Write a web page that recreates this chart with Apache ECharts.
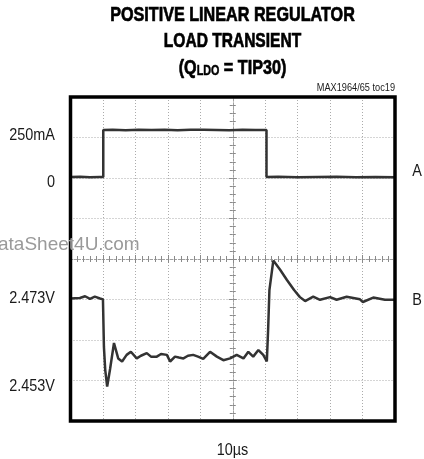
<!DOCTYPE html>
<html><head><meta charset="utf-8">
<script src="https://cdn.jsdelivr.net/npm/echarts@6/dist/echarts.min.js"></script>
<style>html,body{margin:0;padding:0;background:#fff}#c{width:424px;height:459px}</style>
</head><body><div id="c"></div>
<script>
// ---- text ----
const titleLines = ['POSITIVE LINEAR REGULATOR', 'LOAD TRANSIENT', '(Q{sub|LDO} = TIP30)'];
const noteText = 'MAX1964/65 toc19';
const timeDivLabel = '10µs';
const traceNames = ['A', 'B'];
const watermarkText = 'ataSheet4U.com';

// ---- tick labels ----
const tickValuesA = [250, 0];
const tickTextA = ['250mA', '0'];
const tickValuesB = [2.473, 2.453];
const tickTextB = ['2.473V', '2.453V'];

// ---- trace A: load current (mA) vs time (µs) ----
const timeA = [0, 3, 6, 9, 10.1, 10.1, 13, 17, 21, 25, 29, 33, 37, 41, 45, 49, 53, 57, 60.4, 60.4, 64, 70, 76, 82, 88, 94, 100];
const currentA = [0, 1, -1, 0, 0, 250, 251, 249, 251, 250, 252, 249, 251, 251, 250, 249, 251, 250, 250, 0, 1, -1, 0, 1, -1, 0, -1];

// ---- trace B: output voltage (V) vs time (µs) ----
const timeB = [0, 2.9, 4.5, 6.0, 7.5, 9.1, 10.0, 10.3, 10.7, 11.3, 12.2, 13.4, 14.7, 15.9, 17.3, 18.6, 20.4, 21.7, 23.5, 24.8, 26.6, 27.9, 29.7, 30.7, 32.2, 33.4, 34.8, 36.2, 37.8, 39.3, 40.9, 43.0, 45.1, 47.1, 49.2, 51.2, 53.3, 54.8, 56.3, 57.9, 59.4, 60.5, 60.9, 61.3, 62.5, 64.6, 66.7, 68.9, 70.7, 72.3, 74.8, 76.9, 80.0, 82.0, 85.1, 89.2, 90.1, 93.3, 96.9, 100];
const voltageB = [2.4730, 2.4731, 2.4735, 2.4729, 2.4734, 2.4730, 2.4728, 2.4620, 2.4568, 2.4530, 2.4570, 2.4629, 2.4594, 2.4587, 2.4602, 2.4609, 2.4594, 2.4600, 2.4606, 2.4598, 2.4598, 2.4604, 2.4602, 2.4587, 2.4598, 2.4596, 2.4594, 2.4600, 2.4602, 2.4598, 2.4593, 2.4609, 2.4598, 2.4590, 2.4594, 2.4602, 2.4594, 2.4609, 2.4598, 2.4613, 2.4602, 2.4587, 2.4659, 2.4749, 2.4816, 2.4795, 2.4772, 2.4749, 2.4733, 2.4724, 2.4734, 2.4727, 2.4733, 2.4727, 2.4734, 2.4728, 2.4722, 2.4732, 2.4727, 2.4727];

const SANS = "'Liberation Sans', Arial, sans-serif";
const TEXT = '#1a1a1a';

const chart = echarts.init(document.getElementById('c'), null, { renderer: 'canvas' });

function gridLine() { return { show: true, lineStyle: { color: '#ababab', width: 1, type: [1, 2] } }; }
function hiddenAxis(extra) {
  return Object.assign({ type: 'value', axisLine: { show: false }, axisTick: { show: false }, axisLabel: { show: false }, splitLine: { show: false } }, extra);
}
function centerX(inside) {
  return { type: 'value', min: 0, max: 100, interval: 10, position: 'bottom', offset: -162,
    axisLine: { show: true, lineStyle: { color: '#a0a0a0', width: 1, type: [2, 2] } },
    axisTick: { show: true, inside: inside, length: 4, lineStyle: { color: '#8a8a8a' } },
    minorTick: { show: true, splitNumber: 5, length: 3, lineStyle: { color: '#8a8a8a' } },
    axisLabel: { show: false }, splitLine: { show: false } };
}
function centerY(inside) {
  return { type: 'value', min: 0, max: 8, interval: 1, position: 'left', offset: -162.25,
    axisLine: { show: true, lineStyle: { color: '#a0a0a0', width: 1, type: [2, 2] } },
    axisTick: { show: true, inside: inside, length: 4, lineStyle: { color: '#8a8a8a' } },
    minorTick: { show: true, splitNumber: 5, length: 3, lineStyle: { color: '#8a8a8a' } },
    axisLabel: { show: false }, splitLine: { show: false } };
}

function txt(x, y, text, font, extra) {
  return Object.assign({ type: 'text', x: x, y: y, z: 60,
    style: Object.assign({ text: text, textAlign: 'center', textVerticalAlign: 'middle', font: font, fill: TEXT }, (extra && extra.style) || {}) },
    (extra && extra.el) || {});
}

const titleFont = 'bold 21px ' + SANS;
const titleStyle = { fill: '#000', stroke: '#000', lineWidth: 0.7 };

function buildOption(graphics) {
  return {
    animation: false,
    backgroundColor: '#fff',
    grid: { left: 70.5, top: 97, width: 324.5, height: 324, show: true, borderWidth: 0, backgroundColor: 'transparent' },
    xAxis: [
      hiddenAxis({ min: 0, max: 100, interval: 10, splitLine: gridLine() }),
      centerX(true),
      centerX(false)
    ],
    yAxis: [
      hiddenAxis({ min: -1300, max: 426 }),
      hiddenAxis({ min: 2.4452, max: 2.5187 }),
      hiddenAxis({ min: 0, max: 8, interval: 1, splitLine: gridLine() }),
      centerY(true),
      centerY(false)
    ],
    series: [
      { name: traceNames[0], type: 'line', xAxisIndex: 0, yAxisIndex: 0, symbol: 'none', z: 5,
        lineStyle: { color: '#333', width: 2.5 },
        data: timeA.map((t, i) => [t, currentA[i]]) },
      { name: traceNames[1], type: 'line', xAxisIndex: 0, yAxisIndex: 1, symbol: 'none', z: 5,
        lineStyle: { color: '#333', width: 2.5 },
        data: timeB.map((t, i) => [t, voltageB[i]]) }
    ],
    graphic: graphics
  };
}
chart.setOption(buildOption([]));

// frame, text, and tick labels placed at the scale positions of their values
const graphics = [
  { type: 'rect', z: 50, shape: { x: 70.5, y: 97, width: 324.5, height: 324 }, style: { fill: null, stroke: '#000', lineWidth: 3.5 } },
  txt(232.5, 15, titleLines[0], titleFont, { style: titleStyle, el: { scaleX: 0.77 } }),
  txt(232.5, 41, titleLines[1], titleFont, { style: titleStyle, el: { scaleX: 0.74 } }),
  txt(232.5, 68, titleLines[2], titleFont, { style: Object.assign({ rich: { sub: { fontSize: 14, fontWeight: 'bold', fontFamily: SANS, verticalAlign: 'bottom', padding: [6, 0, 0, 0], fill: '#000', stroke: '#000', lineWidth: 0.5 } } }, titleStyle), el: { scaleX: 0.77 } }),
  txt(395, 88, noteText, '11.5px ' + SANS, { style: { textAlign: 'right' }, el: { scaleX: 0.8 } }),
  txt(232.5, 450, timeDivLabel, '17px ' + SANS, { el: { scaleX: 0.85 } }),
  txt(417, 171, traceNames[0], '17px ' + SANS, { el: { scaleX: 0.85 } }),
  txt(417, 300, traceNames[1], '17px ' + SANS, { el: { scaleX: 0.85 } }),
  txt(-2, 245, watermarkText, '19px ' + SANS, { style: { textAlign: 'left', fill: '#9a9a9a' } })
];
tickValuesA.forEach(function (v, i) {
  const p = chart.convertToPixel({ seriesIndex: 0 }, [0, v]);
  graphics.push(txt(55, p[1] + 5, tickTextA[i], '17px ' + SANS, { style: { textAlign: 'right' }, el: { scaleX: 0.85 } }));
});
tickValuesB.forEach(function (v, i) {
  const p = chart.convertToPixel({ seriesIndex: 1 }, [0, v]);
  graphics.push(txt(55, p[1] + 0, tickTextB[i], '17px ' + SANS, { style: { textAlign: 'right' }, el: { scaleX: 0.85 } }));
});
chart.setOption(buildOption(graphics), true);
</script>
</body></html>
